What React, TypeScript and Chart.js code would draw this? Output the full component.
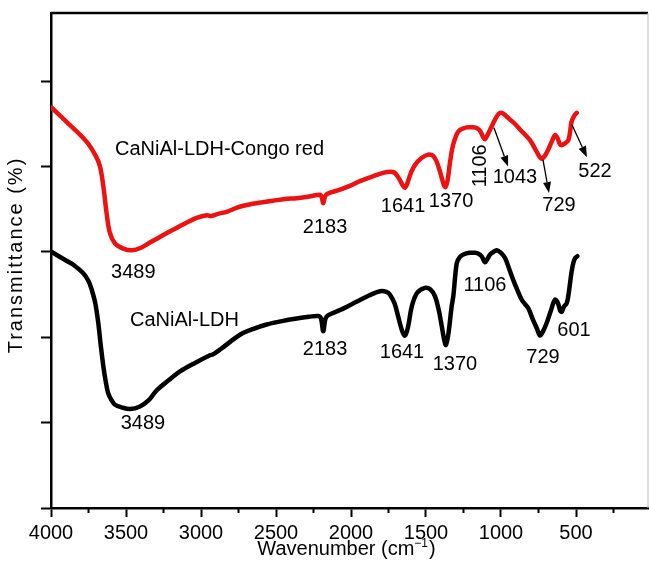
import React, { useEffect, useRef } from "react";
import { Chart, registerables } from "chart.js";

Chart.register(...registerables);

const FONT = '"Liberation Sans", Arial, Helvetica, sans-serif';

// Axis ticks
const xMajorTicks = [4000, 3500, 3000, 2500, 2000, 1500, 1000, 500];
const xMinorTicks = [3750, 3250, 2750, 2250, 1750, 1250, 750, 250];
const yTicks = [0, 1, 2, 3, 4, 5];

// CaNiAl-LDH-Congo red (red curve)
const redWavenumbers = [
  3995, 3900, 3762, 3700, 3673, 3651, 3629, 3607, 3573, 3518, 3460, 3400, 3340, 3260, 3187, 3100,
  3029, 2960, 2935, 2915, 2880, 2829, 2760, 2695, 2600, 2520, 2440, 2362, 2280, 2207, 2195, 2185,
  2175, 2160, 2073, 2000, 1940, 1850, 1780, 1740, 1710, 1680, 1655, 1640, 1625, 1600, 1573, 1530,
  1485, 1455, 1429, 1400, 1380, 1370, 1355, 1340, 1320, 1295, 1273, 1230, 1185, 1160, 1140, 1120,
  1107, 1090, 1065, 1040, 1015, 995, 970, 940, 918, 870, 807, 770, 745, 729, 710, 685, 660, 640,
  622, 607, 595, 585, 568, 551, 540, 529, 510, 495,
];
const redValues = [
  4.69, 4.53, 4.29, 4.12, 4.0, 3.77, 3.45, 3.22, 3.1, 3.04, 3.02, 3.05, 3.11, 3.19, 3.26, 3.34,
  3.4, 3.43, 3.42, 3.43, 3.45, 3.47, 3.52, 3.55, 3.58, 3.6, 3.62, 3.63, 3.65, 3.67, 3.64, 3.57,
  3.64, 3.68, 3.73, 3.78, 3.83, 3.89, 3.93, 3.94, 3.93, 3.86, 3.78, 3.75, 3.8, 3.93, 4.02, 4.1,
  4.14, 4.13, 4.06, 3.9, 3.78, 3.76, 3.85, 4.05, 4.25, 4.38, 4.43, 4.46, 4.46, 4.45, 4.42, 4.35,
  4.32, 4.37, 4.46, 4.55, 4.62, 4.63, 4.6, 4.55, 4.52, 4.43, 4.31, 4.2, 4.12, 4.09, 4.12, 4.2, 4.3, 4.37,
  4.33, 4.26, 4.25, 4.26, 4.28, 4.31, 4.4, 4.53, 4.6, 4.63,
];

// CaNiAl-LDH (black curve)
const blackWavenumbers = [
  3995, 3900, 3851, 3785, 3750, 3729, 3705, 3685, 3668, 3651, 3635, 3618, 3595, 3573, 3530, 3473,
  3407, 3350, 3295, 3220, 3140, 3040, 2940, 2920, 2870, 2740, 2650, 2562, 2460, 2362, 2280, 2218,
  2200, 2185, 2170, 2151, 2073, 1960, 1880, 1807, 1760, 1740, 1710, 1685, 1660, 1640, 1620, 1595,
  1560, 1507, 1470, 1440, 1415, 1395, 1380, 1367, 1350, 1330, 1318, 1295, 1275, 1251, 1210, 1173,
  1150, 1129, 1107, 1090, 1073, 1050, 1029, 1000, 973, 945, 918, 890, 862, 840, 818, 790, 760, 740,
  720, 695, 670, 640, 620, 605, 595, 580, 562, 550, 540, 530, 518, 505, 491,
];
const blackValues = [
  3.0, 2.9, 2.85, 2.75, 2.66, 2.56, 2.4, 2.17, 1.9, 1.66, 1.48, 1.34, 1.26, 1.21, 1.18, 1.16,
  1.19, 1.26, 1.38, 1.49, 1.6, 1.7, 1.79, 1.8, 1.86, 2.03, 2.1, 2.15, 2.19, 2.22, 2.24, 2.25,
  2.22, 2.07, 2.22, 2.26, 2.32, 2.42, 2.49, 2.54, 2.53, 2.5, 2.4, 2.24, 2.08, 2.02, 2.12, 2.36,
  2.52, 2.58, 2.56, 2.48, 2.32, 2.13, 1.98, 1.91, 2.05, 2.35, 2.48, 2.87, 2.94, 2.97, 2.99, 2.99,
  2.98, 2.95, 2.88, 2.92, 2.97, 3.0, 3.02, 2.99, 2.93, 2.8, 2.67, 2.55, 2.44, 2.39, 2.34, 2.22, 2.1, 2.02,
  2.07, 2.17, 2.3, 2.44, 2.4, 2.31, 2.3, 2.36, 2.4, 2.5, 2.63, 2.76, 2.87, 2.93, 2.95,
];

// Peak annotations (wavenumber, transmittance units)
const labelTexts = [
  "3489", "2183", "1641", "1370", "1106", "1043", "729", "522",
  "3489", "2183", "1641", "1370", "1106", "729", "601",
];
const labelX = [
  3451, 2173, 1653, 1333, 1140, 907, 613, 373,
  3387, 2173, 1660, 1307, 1107, 720, 513,
];
const labelY = [
  2.755, 3.29, 3.53, 3.59, 4.01, 3.87, 3.54, 3.94,
  0.985, 1.86, 1.82, 1.68, 2.61, 1.76, 2.075,
];
const labelVertical = [
  false, false, false, false, true, false, false, false,
  false, false, false, false, false, false, false,
];

// Series names placed in the plot
const seriesNames = ["CaNiAl-LDH-Congo red", "CaNiAl-LDH"];
const seriesNameX = [3573, 3473];
const seriesNameY = [4.2, 2.2];

// Arrows (from -> to), wavenumber / transmittance units
const arrowFromX = [1047, 720, 527];
const arrowFromY = [4.455, 4.08, 4.49];
const arrowToX = [953, 680, 427];
const arrowToY = [4.0, 3.69, 4.11];

const decorations = {
  id: "decorations",
  afterDatasetsDraw(chart: any) {
    const { ctx, chartArea } = chart;
    const xs = chart.scales.x;
    const ys = chart.scales.y;
    ctx.save();

    // frame top & right
    ctx.strokeStyle = "#000";
    ctx.lineWidth = 2.5;
    ctx.beginPath();
    ctx.moveTo(chartArea.left, chartArea.top);
    ctx.lineTo(chartArea.right, chartArea.top);
    ctx.stroke();
    ctx.strokeStyle = "#bbb";
    ctx.lineWidth = 1;
    ctx.beginPath();
    ctx.moveTo(chartArea.right, chartArea.top);
    ctx.lineTo(chartArea.right, chartArea.bottom);
    ctx.stroke();

    // minor x ticks
    ctx.strokeStyle = "#000";
    ctx.lineWidth = 2;
    for (const v of xMinorTicks) {
      const px = xs.getPixelForValue(v);
      ctx.beginPath();
      ctx.moveTo(px, chartArea.bottom);
      ctx.lineTo(px, chartArea.bottom + 5);
      ctx.stroke();
    }

    // labels
    ctx.fillStyle = "#000";
    ctx.font = `20px ${FONT}`;
    ctx.textBaseline = "middle";
    ctx.textAlign = "center";
    for (let i = 0; i < labelTexts.length; i++) {
      const px = xs.getPixelForValue(labelX[i]);
      const py = ys.getPixelForValue(labelY[i]);
      if (labelVertical[i]) {
        ctx.save();
        ctx.translate(px, py);
        ctx.rotate(-Math.PI / 2);
        ctx.fillText(labelTexts[i], 0, 0);
        ctx.restore();
      } else {
        ctx.fillText(labelTexts[i], px, py);
      }
    }
    ctx.textAlign = "left";
    for (let i = 0; i < seriesNames.length; i++) {
      ctx.fillText(seriesNames[i], xs.getPixelForValue(seriesNameX[i]), ys.getPixelForValue(seriesNameY[i]));
    }

    // arrows
    ctx.strokeStyle = "#000";
    ctx.lineWidth = 1.3;
    for (let i = 0; i < arrowFromX.length; i++) {
      const x0 = xs.getPixelForValue(arrowFromX[i]);
      const y0 = ys.getPixelForValue(arrowFromY[i]);
      const x1 = xs.getPixelForValue(arrowToX[i]);
      const y1 = ys.getPixelForValue(arrowToY[i]);
      const ang = Math.atan2(y1 - y0, x1 - x0);
      const hl = 11;
      const hw = 4;
      const bx = x1 - hl * Math.cos(ang);
      const by = y1 - hl * Math.sin(ang);
      ctx.beginPath();
      ctx.moveTo(x0, y0);
      ctx.lineTo(bx, by);
      ctx.stroke();
      ctx.beginPath();
      ctx.moveTo(x1, y1);
      ctx.lineTo(bx + hw * Math.sin(ang), by - hw * Math.cos(ang));
      ctx.lineTo(bx - hw * Math.sin(ang), by + hw * Math.cos(ang));
      ctx.closePath();
      ctx.fill();
    }

    // x title with superscript
    const cx = (chartArea.left + chartArea.right) / 2 - 3;
    const ty = 549;
    ctx.font = `20px ${FONT}`;
    const p1 = "Wavenumber (cm";
    const p3 = ")";
    const w1 = ctx.measureText(p1).width;
    const w3 = ctx.measureText(p3).width;
    ctx.font = `12px ${FONT}`;
    const p2 = "\u22121";
    const w2 = ctx.measureText(p2).width;
    const total = w1 + w2 + w3 + 1;
    let sx = cx - total / 2;
    ctx.textAlign = "left";
    ctx.font = `20px ${FONT}`;
    ctx.fillText(p1, sx, ty);
    sx += w1;
    ctx.font = `12px ${FONT}`;
    ctx.fillText(p2, sx, ty - 5);
    sx += w2 + 1;
    ctx.font = `20px ${FONT}`;
    ctx.fillText(p3, sx, ty);

    // y title
    ctx.save();
    ctx.translate(16.5, 255);
    ctx.rotate(-Math.PI / 2);
    ctx.textAlign = "center";
    (ctx as any).letterSpacing = "2px";
    ctx.font = `20px ${FONT}`;
    ctx.fillText("Transmittance (%)", 0, 0);
    ctx.restore();

    ctx.restore();
  },
};

export default function App() {
  const canvasRef = useRef<HTMLCanvasElement | null>(null);

  useEffect(() => {
    if (!canvasRef.current) return;
    const chart = new Chart(canvasRef.current, {
      type: "line",
      data: {
        datasets: [
          {
            label: "CaNiAl-LDH-Congo red",
            data: redWavenumbers.map((x, i) => ({ x, y: redValues[i] })),
            borderColor: "#ee1111",
            borderWidth: 4.5,
            pointRadius: 0,
            tension: 0.35,
            borderCapStyle: "round",
            borderJoinStyle: "round",
            fill: false,
          },
          {
            label: "CaNiAl-LDH",
            data: blackWavenumbers.map((x, i) => ({ x, y: blackValues[i] })),
            borderColor: "#000000",
            borderWidth: 4.5,
            pointRadius: 0,
            tension: 0.35,
            borderCapStyle: "round",
            borderJoinStyle: "round",
            fill: false,
          },
        ],
      },
      options: {
        responsive: false,
        animation: false,
        devicePixelRatio: 1,
        layout: { padding: { top: 13, right: 1, left: 0, bottom: 0 } },
        plugins: {
          legend: { display: false },
          tooltip: { enabled: false },
          title: { display: false },
        },
        scales: {
          x: {
            type: "linear",
            min: 20,
            max: 4000,
            reverse: true,
            afterBuildTicks: (scale: any) => {
              scale.ticks = xMajorTicks.map((v) => ({ value: v }));
            },
            afterFit: (scale: any) => {
              scale.height = 65;
            },
            ticks: {
              autoSkip: false,
              maxRotation: 0,
              minRotation: 0,
              color: "#000",
              padding: 4,
              font: { family: FONT, size: 20 },
              callback: (v: any) => String(v),
            },
            grid: {
              display: true,
              drawOnChartArea: false,
              drawTicks: true,
              tickLength: 9,
              tickWidth: 2,
              color: "#000",
            },
            border: { display: true, color: "#000", width: 2.5 },
          },
          y: {
            type: "linear",
            min: 0,
            max: 5.8,
            afterBuildTicks: (scale: any) => {
              scale.ticks = yTicks.map((v) => ({ value: v }));
            },
            afterFit: (scale: any) => {
              scale.width = 51;
            },
            ticks: { display: false },
            grid: {
              display: true,
              drawOnChartArea: false,
              drawTicks: true,
              tickLength: 10,
              tickWidth: 2,
              color: "#000",
            },
            border: { display: true, color: "#000", width: 2.5 },
          },
        },
      },
      plugins: [decorations],
    } as any);
    return () => chart.destroy();
  }, []);

  return (
    <div style={{ position: "fixed", left: 0, top: 0, width: 649, height: 573, background: "#fff" }}>
      <canvas ref={canvasRef} width={649} height={573} style={{ display: "block" }} />
    </div>
  );
}
